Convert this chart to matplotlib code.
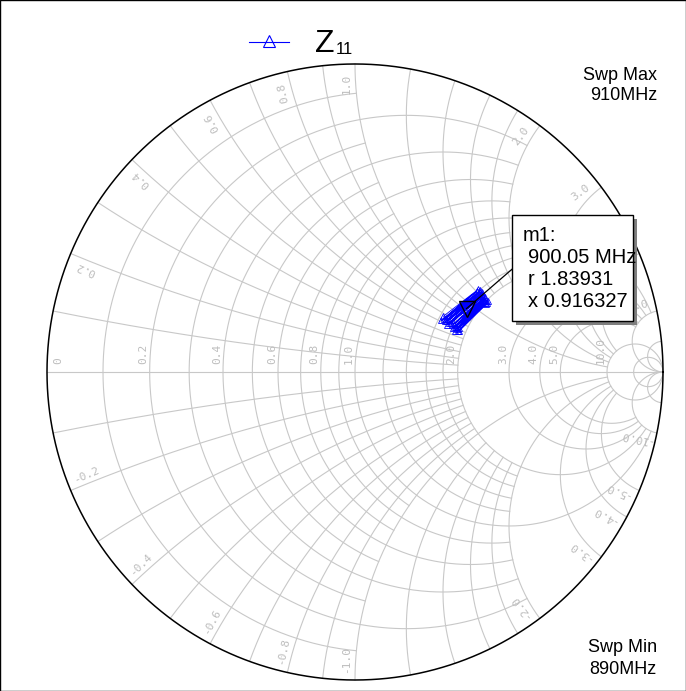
import numpy as np
import matplotlib.pyplot as plt
from matplotlib.patches import Rectangle
from matplotlib.lines import Line2D

# Z11 trace (normalized impedance), sweep 890 MHz .. 910 MHz
swp_min = "890MHz"
swp_max = "910MHz"
z11_r = [1.907, 2.037, 1.889, 2.027, 1.887, 2.021, 1.865, 1.991, 1.843, 1.985,
         1.842, 1.975, 1.824, 1.954, 1.807, 1.944, 1.804, 1.937, 1.783, 1.912,
         1.831, 1.903, 1.759, 1.893, 1.741, 1.867, 1.719, 1.861, 1.721, 1.855,
         1.699, 1.829, 1.683, 1.819, 1.676, 1.809, 1.659, 1.784, 1.637, 1.778,
         1.635]
z11_x = [0.587, 1.166, 0.574, 1.185, 0.626, 1.222, 0.597, 1.160, 0.566, 1.195,
         0.620, 1.215, 0.607, 1.185, 0.593, 1.205, 0.646, 1.242, 0.615, 1.195,
         0.883, 1.215, 0.639, 1.234, 0.625, 1.188, 0.596, 1.225, 0.664, 1.260,
         0.635, 1.214, 0.622, 1.233, 0.658, 1.254, 0.645, 1.208, 0.614, 1.243,
         0.668]

# marker m1
m1_freq = "900.05 MHz"
m1_r = 1.83931
m1_x = 0.916327

# smith grid: resistance circles and reactance arcs with their extent
grid_r = [0.1, 0.2, 0.3, 0.4, 0.5, 0.6, 0.7, 0.8, 0.9, 1.0,
          1.2, 1.4, 1.6, 1.8, 2.0, 3.0, 4.0, 5.0, 10.0, 20.0]
grid_r_xmax = [1, 2, 1, 2, 1, 2, 1, 2, 1, 10,
               2, 2, 2, 2, 10, 10, 10, 10, None, None]
grid_x = [0.1, 0.2, 0.3, 0.4, 0.5, 0.6, 0.7, 0.8, 0.9, 1.0,
          1.2, 1.4, 1.6, 1.8, 2.0, 3.0, 4.0, 5.0, 10.0, 20.0]
grid_x_rmax = [2, 2, 2, 2, 2, 2, 2, 2, 2, 10,
               2, 2, 2, 2, 10, 10, 10, 10, None, None]
r_labels = [0, 0.2, 0.4, 0.6, 0.8, 1.0, 2.0, 3.0, 4.0, 5.0, 10.0]
x_labels = [0.2, 0.4, 0.6, 0.8, 1.0, 2.0, 3.0, 4.0, 5.0, 10.0]

W, H = 686, 691
CX, CY, R = 355, 372, 308
GRID = "#c8c8c8"
LBL = "#bdbdbd"
BLUE = "#0000ff"


def gam(z):
    return (z - 1) / (z + 1)


def p2d(px, py):
    # pixel -> reflection-coefficient plane
    return (px - CX) / R, (CY - py) / R


fig = plt.figure(figsize=(W / 100, H / 100), dpi=100)
ax = fig.add_axes([0, 0, 1, 1])
ax.set_xlim(-CX / R, (W - CX) / R)
ax.set_ylim(-(H - CY) / R, CY / R)
ax.axis("off")

# resistance circles
for r, xm in zip(grid_r, grid_r_xmax):
    a = np.pi / 2 - 1e-4 if xm is None else np.arctan(xm)
    t = np.linspace(-a, a, 500)
    g = gam(r + 1j * np.tan(t))
    ax.plot(g.real, g.imag, color=GRID, lw=0.8, zorder=1)

# reactance arcs
for x, rm in zip(grid_x, grid_x_rmax):
    a = np.pi / 2 - 1e-4 if rm is None else np.arctan(rm)
    t = np.linspace(0, a, 500)
    g = gam(np.tan(t) + 1j * x)
    ax.plot(g.real, g.imag, color=GRID, lw=0.8, zorder=1)
    ax.plot(g.real, -g.imag, color=GRID, lw=0.8, zorder=1)

ax.plot([-1, 1], [0, 0], color=GRID, lw=0.8, zorder=1)

th = np.linspace(0, 2 * np.pi, 721)
ax.plot(np.cos(th), np.sin(th), color="black", lw=1.1, zorder=2)

# grid labels
for r in r_labels:
    left = (r - 1) / (r + 1)
    off = 0.036 if r == 0 else -0.02
    txt = "0" if r == 0 else f"{r:.1f}"
    ax.text(left + off, 0.026, txt, rotation=90, ha="center", va="bottom",
            fontsize=8, family="DejaVu Sans Mono", color=LBL, zorder=1)

for x in x_labels:
    th_x = 2 * np.degrees(np.arctan(1 / x))
    for sgn in (1, -1):
        ang = np.radians(sgn * (th_x + 1.7))
        rot = th_x if sgn > 0 else 180 - th_x
        txt = f"{x:.1f}" if sgn > 0 else f"-{x:.1f}"
        ax.text(0.935 * np.cos(ang), 0.935 * np.sin(ang), txt, rotation=rot,
                ha="center", va="center", fontsize=8, family="DejaVu Sans Mono",
                color=LBL, zorder=1)

# trace
z = np.array(z11_r) + 1j * np.array(z11_x)
g = gam(z)
ax.plot(g.real, g.imag, color=BLUE, lw=0.6, marker="^", ms=5, mfc="none",
        mec=BLUE, mew=0.6, zorder=3)

# marker m1 + readout box
gm = gam(m1_r + 1j * m1_x)
ax.plot(gm.real, gm.imag, marker="v", ms=12, mfc="none", mec="black", mew=1.0,
        zorder=4)
bx0, by0 = p2d(512, 321)
bx1, by1 = p2d(633, 215)
lx, ly = p2d(540, 245)
ax.plot([gm.real, lx], [gm.imag, ly], color="black", lw=0.9, zorder=4)
sx, sy = p2d(516, 325)
ax.add_patch(Rectangle((sx, sy), bx1 - bx0, by1 - by0, facecolor="#7f7f7f",
                       edgecolor="none", zorder=5))
ax.add_patch(Rectangle((bx0, by0), bx1 - bx0, by1 - by0, facecolor="white",
                       edgecolor="black", lw=1.0, zorder=6))
box_lines = ["m1:", m1_freq, f"r {m1_r:g}", f"x {m1_x:g}"]
box_x = [523, 528, 528, 528]
for i, (s, bxp) in enumerate(zip(box_lines, box_x)):
    tx, ty = p2d(bxp, 236 + 22 * i)
    ax.text(tx, ty, s, ha="left", va="center", fontsize=14.5,
            family="Liberation Sans", zorder=7)

# sweep annotations
for s, py in [("Swp Max", 75), (swp_max, 96), ("Swp Min", 647), (swp_min, 670)]:
    tx, ty = p2d(657, py)
    ax.text(tx, ty, s, ha="right", va="center", fontsize=13,
            family="Liberation Sans", zorder=7)

# legend
fig.add_artist(Line2D([249 / W, 289 / W], [1 - 42 / H] * 2, color=BLUE, lw=0.8))
fig.add_artist(Line2D([269 / W], [1 - 41 / H], marker="^", ms=8.5, mfc="none",
                      mec=BLUE, mew=0.8, color=BLUE))
fig.text(315 / W, 1 - 52 / H, "Z", fontsize=23, family="Liberation Sans",
         va="baseline", ha="left")
fig.text(336 / W, 1 - 54 / H, "11", fontsize=12, family="Liberation Sans",
         va="baseline", ha="left")

fig.add_artist(Rectangle((0, 0), 1, 1, transform=fig.transFigure, fill=False,
                         edgecolor="black", lw=1.0))

fig.savefig("out.png", dpi=100)
